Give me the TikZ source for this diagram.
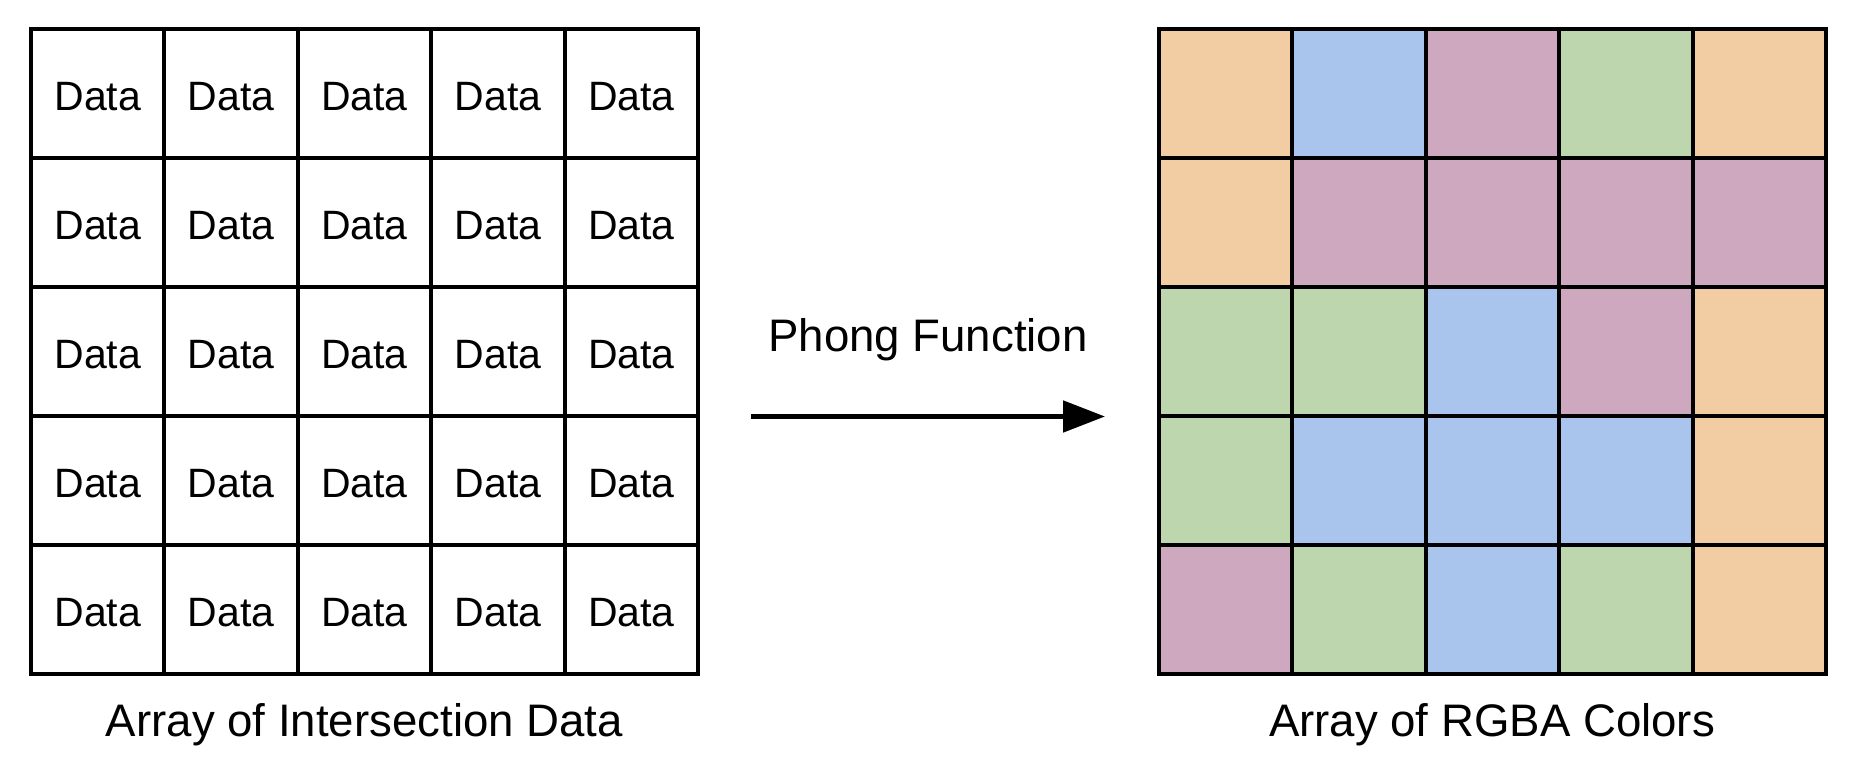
\documentclass[tikz,border=0pt]{standalone}
\usepackage{fontspec}
\setmainfont{Liberation Sans}
\usetikzlibrary{arrows.meta}
\definecolor{cO}{RGB}{242,204,162}
\definecolor{cB}{RGB}{169,196,237}
\definecolor{cP}{RGB}{206,168,191}
\definecolor{cG}{RGB}{189,214,174}
\tikzset{
  cell/.style={draw=black, line width=2pt, minimum width=66.7pt, minimum height=64.45pt, inner sep=0pt, outer sep=0pt},
  datatxt/.style={font=\fontsize{20.5pt}{24pt}\selectfont, text height=17.1pt, text depth=0pt},
  lbl/.style={font=\fontsize{22.8pt}{27pt}\selectfont, inner sep=0pt, anchor=base},
  conn/.style={line width=2.5pt, -{Triangle[length=21pt, width=15.5pt]}}
}
\begin{document}
\begin{tikzpicture}[x=0.5pt, y=-0.5pt]
\useasboundingbox (0,0) rectangle (1858,774);
% left grid
\foreach \j in {0,...,4}{
  \foreach \i in {0,...,4}{
    \node[cell, fill=white, datatxt] (L-\i-\j) at ({31+133.4*(\i+0.5)},{29+128.9*(\j+0.5)}) {Data};
  }
}
% right grid
\foreach \j/\cols in {0/{cO,cB,cP,cG,cO},1/{cO,cP,cP,cP,cP},2/{cG,cG,cB,cP,cO},3/{cG,cB,cB,cB,cO},4/{cP,cG,cB,cG,cO}}{
  \foreach \c [count=\k from 0] in \cols{
    \node[cell, fill=\c] (R-\k-\j) at ({1159+133.4*(\k+0.5)},{29+128.9*(\j+0.5)}) {};
  }
}
% arrow
\coordinate (aS) at (751,416.5);
\coordinate (aE) at (1105,416.5);
\draw[conn] (aS) -- (aE);
\node[lbl] (phong) at (928,352) {Phong Function};
\node[lbl] (lblL) at (364.5,736) {Array of Intersection Data};
\node[lbl] (lblR) at (1492,736) {Array of RGBA Colors};
\end{tikzpicture}
\end{document}
